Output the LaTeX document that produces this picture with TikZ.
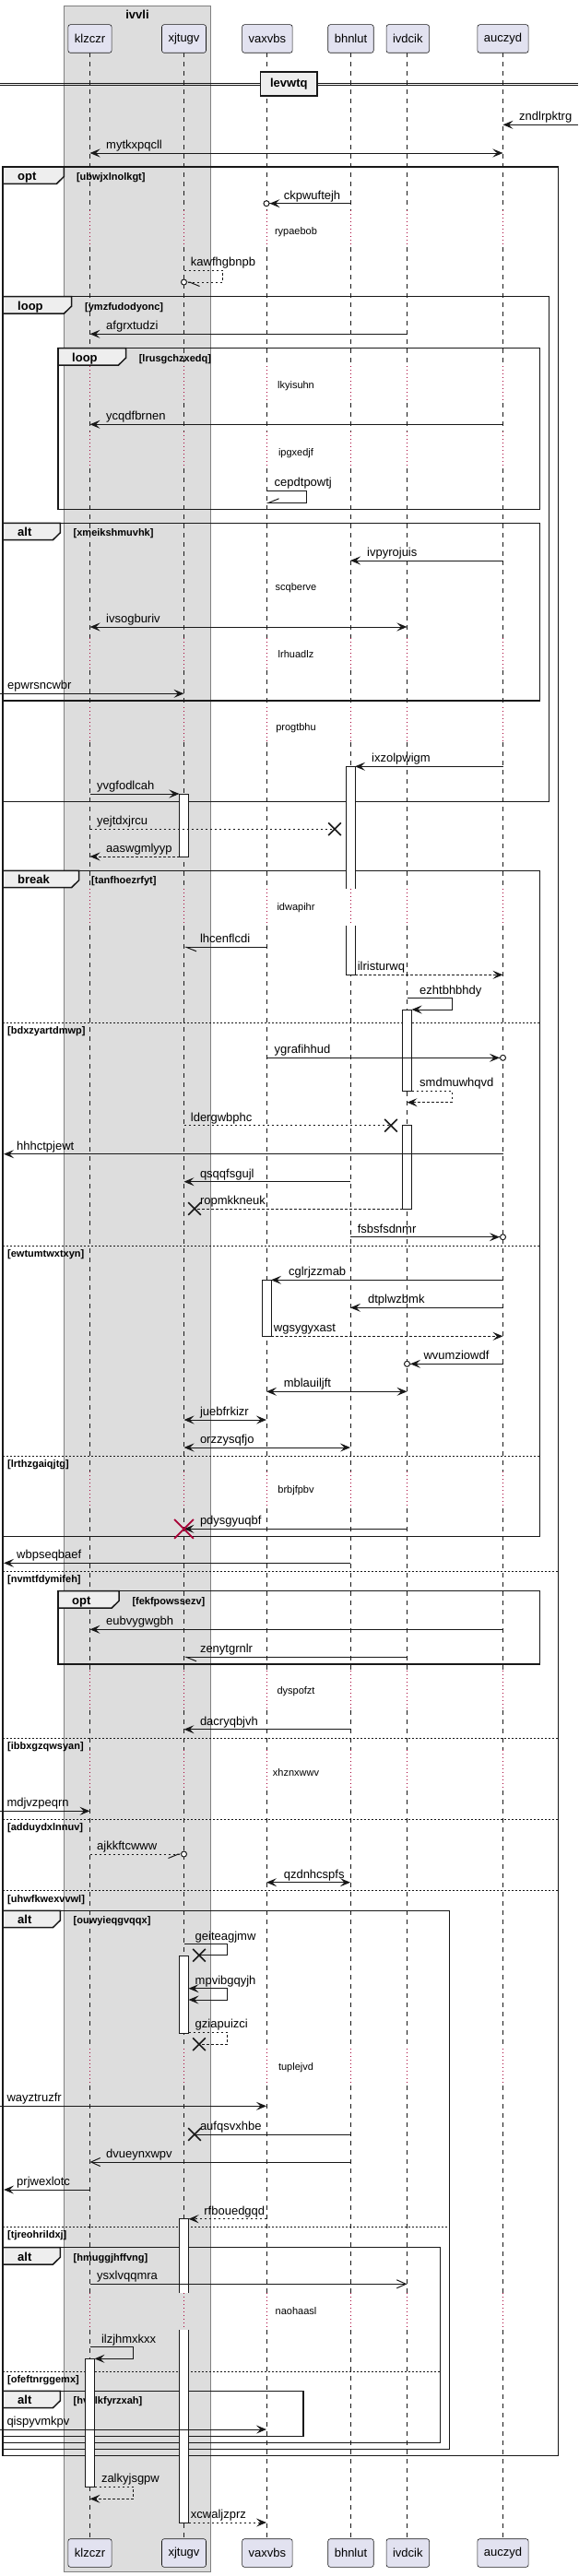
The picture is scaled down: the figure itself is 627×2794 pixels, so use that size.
\documentclass[tikz,border=0pt]{standalone}
\usepackage{fontspec}
\setmainfont{Liberation Sans}
\usetikzlibrary{arrows.meta,shapes.misc}

\definecolor{partyfill}{HTML}{E2E2F0}
\definecolor{groupfill}{HTML}{DDDDDD}
\definecolor{tabfill}{HTML}{EEEEEE}
\definecolor{delayred}{HTML}{A80036}
\definecolor{ink}{HTML}{181818}

\tikzset{
  party/.style={draw=ink, fill=partyfill, rounded corners=2.5pt, line width=0.6pt,
    minimum height=30.6pt, inner xsep=7pt, font=\fontsize{13}{15}\selectfont},
  lifeline/.style={draw=ink, line width=0.6pt, dash pattern=on 5pt off 5pt},
  delayline/.style={draw=delayred, line width=1pt, dash pattern=on 1pt off 3pt},
  msg/.style={draw=ink, line width=1pt, ->},
  twoway/.style={msg, <->},
  ret/.style={msg, dash pattern=on 2.5pt off 2.5pt},
  openmsg/.style={draw=ink, line width=1pt, -{Straight Barb[length=10pt,width=9pt]}},
  halfdown/.style={draw=ink, line width=1pt, -{Straight Barb[left,length=11pt,width=9pt]}},
  halfup/.style={draw=ink, line width=1pt, -{Straight Barb[right,length=11pt,width=9pt]}},
  circ/.style={draw=ink, line width=1pt, shorten >=-3.5pt,
    -{Stealth[length=11pt,width=9pt,inset=4.5pt]Circle[fill=white,length=7pt]}},
  kill/.style={cross out, draw=ink, line width=1.6pt, minimum size=12pt, inner sep=0pt},
  act/.style={fill=white, draw=ink, line width=0.8pt},
  lbl/.style={anchor=base west, inner sep=0pt, font=\fontsize{13}{15}\selectfont},
  delaytxt/.style={anchor=base, inner sep=0pt, font=\fontsize{11}{13}\selectfont},
  frm/.style={draw=ink, line width=1.5pt},
  tabbox/.style={draw=ink, fill=tabfill, line width=1.5pt},
  tabtxt/.style={anchor=base west, inner sep=0pt, font=\bfseries\fontsize{13}{15}\selectfont},
  cond/.style={anchor=base west, inner sep=0pt, font=\bfseries\fontsize{11}{13}\selectfont},
  elseline/.style={draw=ink, line width=0.8pt, dash pattern=on 2pt off 2pt},
}

\begin{document}
\begin{tikzpicture}[x=1pt,y=-1pt,>={Stealth[length=11pt,width=9pt,inset=4.5pt]}]
  \useasboundingbox (0,0) rectangle (627,2794);

  % lifeline positions and activation edges
  \coordinate (kl) at (97.5,0);
  \coordinate (xj) at (199.5,0);
  \coordinate (vx) at (289,0);
  \coordinate (bh) at (380,0);
  \coordinate (iv) at (441.5,0);
  \coordinate (au) at (545.5,0);
  \coordinate (klR) at (102.5,0);
  \coordinate (xjL) at (194.5,0);
  \coordinate (xjR) at (204.5,0);
  \coordinate (vxR) at (294,0);
  \coordinate (bhR) at (385,0);
  \coordinate (ivL) at (436.5,0);
  \coordinate (ivR) at (446.5,0);
  \coordinate (lft) at (0,0);
  \coordinate (lftin) at (4,0);
  \coordinate (rgt) at (627,0);

  % group box
  \draw[fill=groupfill, draw=black!50, line width=0.8pt] (69.4,6) rectangle (228.5,2789);
  \node[font=\bfseries\fontsize{13}{15}\selectfont] (ivvli) at (149,15.5) {ivvli};

  % routine for lifelines, with delays
  \foreach \x in {97.5,199.5,289,380,441.5,545.5} {
    \foreach \a/\b in {57.3/228,268/397,437/468,508/692,727/767,805/964,1004/1596,
                       1636/1812,1855/1898,1942/2222,2262/2487,2527/2753.7}
      \draw[lifeline] (\x,\a) -- (\x,\b);
    \foreach \a/\b in {228/268,397/437,468/508,692/727,767/805,964/1004,1596/1636,
                       1812/1855,1898/1942,2222/2262,2487/2527}
      \draw[delayline] (\x,\a) -- (\x,\b);
  }

  % divider
  \draw[ink, line width=0.8pt] (0,90) -- (627,90) (0,92.7) -- (627,92.7);
  \node[draw=ink, fill=tabfill, line width=1.5pt, minimum width=61.4pt, minimum height=26pt,
    font=\bfseries\fontsize{13}{15}\selectfont] (levwtq) at (313.3,91) {levwtq};

  % frames
  \draw[frm] (3.2,181) rectangle (605.6,2663.3);
  \draw[tabbox] (3.2,181) -- (69.4,181) -- (69.4,191.5) -- (61.4,199.3) -- (3.2,199.3) -- cycle;
  \node[tabtxt] (optA) at (19,195.5) {opt};
  \node[cond] (optAc) at (82.8,195.5) {[ubwjxlnolkgt]};

  \draw[frm] (3.2,321.7) rectangle (595.5,869.3);
  \draw[tabbox] (3.2,321.7) -- (77.5,321.7) -- (77.5,332.2) -- (69.5,340) -- (3.2,340) -- cycle;
  \node[tabtxt] (loopA) at (19,336.2) {loop};
  \node[cond] (loopAc) at (92,336.2) {[ymzfudodyonc]};

  \draw[frm] (63,377.7) rectangle (585.4,552.3);
  \draw[tabbox] (63,377.7) -- (136.5,377.7) -- (136.5,388.2) -- (128.5,396) -- (63,396) -- cycle;
  \node[tabtxt] (loopB) at (78,392.2) {loop};
  \node[cond] (loopBc) at (150.6,392.2) {[lrusgchzxedq]};

  \draw[frm] (3.2,567.3) rectangle (585.4,760);
  \draw[tabbox] (3.2,567.3) -- (65.4,567.3) -- (65.4,577.8) -- (57.4,585.6) -- (3.2,585.6) -- cycle;
  \node[tabtxt] (altA) at (19,581.8) {alt};
  \node[cond] (altAc) at (79.5,581.8) {[xmeikshmuvhk]};

  \draw[frm] (3.2,944.3) rectangle (585.4,1666.7);
  \draw[tabbox] (3.2,944.3) -- (85.6,944.3) -- (85.6,954.8) -- (77.6,962.6) -- (3.2,962.6) -- cycle;
  \node[tabtxt] (breakA) at (19,958.8) {break};
  \node[cond] (breakAc) at (99,958.8) {[tanfhoezrfyt]};
  \draw[elseline] (3.2,1109) -- (585.4,1109);
  \node[cond] (elseA) at (8,1121.3) {[bdxzyartdmwp]};
  \draw[elseline] (3.2,1351) -- (585.4,1351);
  \node[cond] (elseB) at (8,1363.3) {[ewtumtwxtxyn]};
  \draw[elseline] (3.2,1579.3) -- (585.4,1579.3);
  \node[cond] (elseC) at (8,1591.6) {[lrthzgaiqjtg]};

  \draw[elseline] (3.2,1704.3) -- (605.6,1704.3);
  \node[cond] (elseD) at (8,1716.6) {[nvmtfdymifeh]};
  \draw[frm] (63,1725.7) rectangle (585.4,1805);
  \draw[tabbox] (63,1725.7) -- (129.2,1725.7) -- (129.2,1736.2) -- (121.2,1744) -- (63,1744) -- cycle;
  \node[tabtxt] (optB) at (78,1740.2) {opt};
  \node[cond] (optBc) at (143.3,1740.2) {[fekfpowssezv]};
  \draw[elseline] (3.2,1885) -- (605.6,1885);
  \node[cond] (elseE) at (8,1897.3) {[ibbxgzqwsyan]};
  \draw[elseline] (3.2,1973.3) -- (605.6,1973.3);
  \node[cond] (elseF) at (8,1985.6) {[adduydxlnnuv]};
  \draw[elseline] (3.2,2050.7) -- (605.6,2050.7);
  \node[cond] (elseG) at (8,2063) {[uhwfkwexvvwl]};

  \draw[frm] (3.2,2072.3) rectangle (487.3,2656.3);
  \draw[tabbox] (3.2,2072.3) -- (65.4,2072.3) -- (65.4,2082.8) -- (57.4,2090.6) -- (3.2,2090.6) -- cycle;
  \node[tabtxt] (altB) at (19,2086.8) {alt};
  \node[cond] (altBc) at (79.5,2086.8) {[ouwyieqgvqqx]};
  \draw[elseline] (3.2,2415.3) -- (487.3,2415.3);
  \node[cond] (elseH) at (8,2427.6) {[tjreohrildxj]};

  \draw[frm] (3.2,2437.7) rectangle (477.6,2649.3);
  \draw[tabbox] (3.2,2437.7) -- (65.4,2437.7) -- (65.4,2448.2) -- (57.4,2456) -- (3.2,2456) -- cycle;
  \node[tabtxt] (altC) at (19,2452.2) {alt};
  \node[cond] (altCc) at (79.5,2452.2) {[hmuggjhffvng]};
  \draw[elseline] (3.2,2572.3) -- (477.6,2572.3);
  \node[cond] (elseI) at (8,2584.6) {[ofeftnrggemx]};

  \draw[frm] (3.2,2593.3) rectangle (329,2642.3);
  \draw[tabbox] (3.2,2593.3) -- (65.4,2593.3) -- (65.4,2603.8) -- (57.4,2611.6) -- (3.2,2611.6) -- cycle;
  \node[tabtxt] (altD) at (19,2607.8) {alt};
  \node[cond] (altDc) at (79.5,2607.8) {[hvolkfyrzxah]};

  % activations
  \fill[white] (375,831.3) rectangle (385,964);
  \fill[white] (375,1004) rectangle (385,1057.3);
  \draw[ink, line width=0.8pt] (375,964) -- (375,831.3) -- (385,831.3) -- (385,964);
  \draw[ink, line width=0.8pt] (375,1004) -- (375,1057.3) -- (385,1057.3) -- (385,1004);
  \draw[act] (194.5,861) rectangle (204.5,929);
  \draw[act] (436.5,1095) rectangle (446.5,1183.3);
  \draw[act] (436.5,1220.7) rectangle (446.5,1311);
  \draw[act] (284,1388.3) rectangle (294,1449.3);
  \draw[act] (194.5,2121) rectangle (204.5,2205);
  \fill[white] (194.5,2406.7) rectangle (204.5,2487);
  \fill[white] (194.5,2527) rectangle (204.5,2736);
  \draw[ink, line width=0.8pt] (194.5,2487) -- (194.5,2406.7) -- (204.5,2406.7) -- (204.5,2487);
  \draw[ink, line width=0.8pt] (194.5,2527) -- (194.5,2736) -- (204.5,2736) -- (204.5,2527);
  \draw[act] (92.5,2558.3) rectangle (102.5,2697.3);

  % messages
  \draw[msg] (rgt|-0,135.3) -- (au|-0,135.3);
  \node[lbl] (zndlrpktrg) at (563,130.8) {zndlrpktrg};
  \draw[twoway] (kl|-0,166) -- (au|-0,166);
  \node[lbl] (mytkxpqcll) at (115,161.5) {mytkxpqcll};
  \draw[circ] (bh|-0,220.7) -- (vx|-0,220.7);
  \node[lbl] (ckpwuftejh) at (307.6,216.2) {ckpwuftejh};
  \node[delaytxt] (rypaebob) at (321,254.5) {rypaebob};
  \draw[ret, shorten >=-3.5pt, -{Straight Barb[left,length=11pt,width=9pt]Circle[fill=white,length=7pt]}]
    (xj|-0,293.3) -- (241.4,293.3) -- (241.4,306) -- (xj|-0,306);
  \node[lbl] (kawfhgbnpb) at (206.7,288.8) {kawfhgbnpb};
  \draw[msg] (iv|-0,362.3) -- (kl|-0,362.3);
  \node[lbl] (afgrxtudzi) at (115,357.8) {afgrxtudzi};
  \node[delaytxt] (lkyisuhn) at (321,421.2) {lkyisuhn};
  \draw[msg] (au|-0,460.3) -- (kl|-0,460.3);
  \node[lbl] (ycqdfbrnen) at (115,455.8) {ycqdfbrnen};
  \node[delaytxt] (ipgxedjf) at (321,494.2) {ipgxedjf};
  \draw[halfup] (vx|-0,532.3) -- (332.7,532.3) -- (332.7,545.3) -- (vx|-0,545.3);
  \node[lbl] (cepdtpowtj) at (297.5,527.8) {cepdtpowtj};
  \draw[msg] (au|-0,608) -- (bh|-0,608);
  \node[lbl] (ivpyrojuis) at (398,603.5) {ivpyrojuis};
  \node[delaytxt] (scqberve) at (321,640.2) {scqberve};
  \draw[twoway] (kl|-0,680) -- (iv|-0,680);
  \node[lbl] (ivsogburiv) at (115,675.5) {ivsogburiv};
  \node[delaytxt] (lrhuadlz) at (321,713.5) {lrhuadlz};
  \draw[msg] (lft|-0,752.3) -- (xj|-0,752.3);
  \node[lbl] (epwrsncwbr) at (8,747.8) {epwrsncwbr};
  \node[delaytxt] (progtbhu) at (321,792.8) {progtbhu};
  \draw[msg] (au|-0,831.3) -- (bhR|-0,831.3);
  \node[lbl] (ixzolpwigm) at (403,826.8) {ixzolpwigm};
  \draw[msg] (kl|-0,861) -- (xjL|-0,861);
  \node[lbl] (yvgfodlcah) at (105,856.5) {yvgfodlcah};
  \node[kill] (xA) at (363,899.3) {};
  \draw[ret,-] (kl|-0,899.3) -- (xA.center);
  \node[lbl] (yejtdxjrcu) at (105,894.8) {yejtdxjrcu};
  \draw[ret] (xjL|-0,929) -- (kl|-0,929);
  \node[lbl] (aaswgmlyyp) at (115,924.5) {aaswgmlyyp};

  % break
  \node[delaytxt] (idwapihr) at (321,987.5) {idwapihr};
  \draw[halfdown] (vx|-0,1027.3) -- (xj|-0,1027.3);
  \node[lbl] (lhcenflcdi) at (216.8,1022.8) {lhcenflcdi};
  \draw[ret] (bhR|-0,1057.3) -- (au|-0,1057.3);
  \node[lbl] (ilristurwq) at (387.6,1052.8) {ilristurwq};
  \draw[msg] (iv|-0,1082.7) -- (490,1082.7) -- (490,1095) -- (ivR|-0,1095);
  \node[lbl] (ezhtbhbhdy) at (455,1078.2) {ezhtbhbhdy};
  \draw[circ] (vx|-0,1147.3) -- (au|-0,1147.3);
  \node[lbl] (ygrafihhud) at (297.5,1142.8) {ygrafihhud};
  \draw[ret] (ivR|-0,1183.3) -- (490,1183.3) -- (490,1195.7) -- (iv|-0,1195.7);
  \node[lbl] (smdmuwhqvd) at (455,1178.8) {smdmuwhqvd};
  \node[kill] (xB) at (424,1220.7) {};
  \draw[ret,-] (xj|-0,1220.7) -- (xB.center);
  \node[lbl] (ldergwbphc) at (206.7,1216.2) {ldergwbphc};
  \draw[msg] (au|-0,1251.7) -- (lftin|-0,1251.7);
  \node[lbl] (hhhctpjewt) at (18,1247.2) {hhhctpjewt};
  \draw[msg] (bh|-0,1281.7) -- (xj|-0,1281.7);
  \node[lbl] (qsqqfsgujl) at (216.8,1277.2) {qsqqfsgujl};
  \node[kill] (xC) at (211,1311) {};
  \draw[ret,-] (ivL|-0,1311) -- (xC.center);
  \node[lbl] (ropmkkneuk) at (216.8,1306.5) {ropmkkneuk};
  \draw[circ] (bh|-0,1341.7) -- (au|-0,1341.7);
  \node[lbl] (fsbsfsdnmr) at (387.6,1337.2) {fsbsfsdnmr};
  \draw[msg] (au|-0,1388.3) -- (vxR|-0,1388.3);
  \node[lbl] (cglrjzzmab) at (312.9,1383.8) {cglrjzzmab};
  \draw[msg] (au|-0,1418.3) -- (bh|-0,1418.3);
  \node[lbl] (dtplwzbmk) at (398.9,1413.8) {dtplwzbmk};
  \draw[ret] (vxR|-0,1449.3) -- (au|-0,1449.3);
  \node[lbl] (wgsygyxast) at (296.7,1444.8) {wgsygyxast};
  \draw[circ] (au|-0,1479.3) -- (iv|-0,1479.3);
  \node[lbl] (wvumziowdf) at (459.4,1474.8) {wvumziowdf};
  \draw[twoway] (vx|-0,1509.3) -- (iv|-0,1509.3);
  \node[lbl] (mblauiljft) at (307.6,1504.8) {mblauiljft};
  \draw[twoway] (xj|-0,1540) -- (vx|-0,1540);
  \node[lbl] (juebfrkizr) at (216.8,1535.5) {juebfrkizr};
  \draw[twoway] (xj|-0,1570) -- (bh|-0,1570);
  \node[lbl] (orzzysqfjo) at (216.8,1565.5) {orzzysqfjo};
  \node[delaytxt] (brbjfpbv) at (321,1619.5) {brbjfpbv};
  \draw[msg] (iv|-0,1658.3) -- (xj|-0,1658.3);
  \node[kill, draw=delayred, minimum size=19pt, line width=1.8pt] (xD) at (xj|-0,1658.3) {};
  \node[lbl] (pdysgyuqbf) at (216.8,1653.8) {pdysgyuqbf};
  \draw[msg] (bh|-0,1695.3) -- (lftin|-0,1695.3);
  \node[lbl] (wbpseqbaef) at (18,1690.8) {wbpseqbaef};

  % after break
  \draw[msg] (au|-0,1767.3) -- (kl|-0,1767.3);
  \node[lbl] (eubvygwgbh) at (115,1762.8) {eubvygwgbh};
  \draw[halfdown] (iv|-0,1797.3) -- (xj|-0,1797.3);
  \node[lbl] (zenytgrnlr) at (216.8,1792.8) {zenytgrnlr};
  \node[delaytxt] (dyspofzt) at (321,1837.8) {dyspofzt};
  \draw[msg] (bh|-0,1875.7) -- (xj|-0,1875.7);
  \node[lbl] (dacryqbjvh) at (216.8,1871.2) {dacryqbjvh};
  \node[delaytxt] (xhznxwwv) at (321,1926.2) {xhznxwwv};
  \draw[msg] (lft|-0,1964.3) -- (kl|-0,1964.3);
  \node[lbl] (mdjvzpeqrn) at (7.3,1959.8) {mdjvzpeqrn};
  \draw[ret, shorten >=-3.5pt, -{Straight Barb[right,length=11pt,width=9pt]Circle[fill=white,length=7pt]}]
    (kl|-0,2011) -- (xj|-0,2011);
  \node[lbl] (ajkkftcwww) at (105,2006.5) {ajkkftcwww};
  \draw[twoway] (vx|-0,2041.7) -- (bh|-0,2041.7);
  \node[lbl] (qzdnhcspfs) at (307.6,2037.2) {qzdnhcspfs};

  % inner alt
  \node[kill] (xE) at (216,2120.7) {};
  \draw[msg,-] (xj|-0,2108.7) -- (246.7,2108.7) -- (246.7,2120.7) -- (xE.center);
  \node[lbl] (geiteagjmw) at (211.5,2104.2) {geiteagjmw};
  \draw[twoway] (xjR|-0,2156.7) -- (246.7,2156.7) -- (246.7,2169) -- (xjR|-0,2169);
  \node[lbl] (mpvibgqyjh) at (211.5,2152.2) {mpvibgqyjh};
  \node[kill] (xF) at (216,2217.3) {};
  \draw[ret,-] (xjR|-0,2204.3) -- (246.7,2204.3) -- (246.7,2217.3) -- (xF.center);
  \node[lbl] (gziapuizci) at (211.5,2199.8) {gziapuizci};
  \node[delaytxt] (tuplejvd) at (321,2245.8) {tuplejvd};
  \draw[msg] (lft|-0,2284.3) -- (vx|-0,2284.3);
  \node[lbl] (wayztruzfr) at (7.3,2279.8) {wayztruzfr};
  \node[kill] (xG) at (211,2315) {};
  \draw[msg,-] (bh|-0,2315) -- (xG.center);
  \node[lbl] (aufqsvxhbe) at (216.8,2310.5) {aufqsvxhbe};
  \draw[openmsg] (bh|-0,2345) -- (kl|-0,2345);
  \node[lbl] (dvueynxwpv) at (115,2340.5) {dvueynxwpv};
  \draw[msg] (kl|-0,2375) -- (lftin|-0,2375);
  \node[lbl] (prjwexlotc) at (18,2370.5) {prjwexlotc};
  \draw[ret] (vx|-0,2406.7) -- (xjR|-0,2406.7);
  \node[lbl] (rfbouedgqd) at (221.2,2402.2) {rfbouedgqd};
  \draw[openmsg] (kl|-0,2477.3) -- (iv|-0,2477.3);
  \node[lbl] (ysxlvqqmra) at (105,2472.8) {ysxlvqqmra};
  \node[delaytxt] (naohaasl) at (321,2510.2) {naohaasl};
  \draw[msg] (kl|-0,2545.7) -- (144.5,2545.7) -- (144.5,2558.3) -- (klR|-0,2558.3);
  \node[lbl] (ilzjhmxkxx) at (109.8,2541.2) {ilzjhmxkxx};
  \draw[msg] (lft|-0,2635) -- (vx|-0,2635);
  \node[lbl] (qispyvmkpv) at (7.3,2630.5) {qispyvmkpv};

  % closing returns
  \draw[ret] (klR|-0,2697.3) -- (144.5,2697.3) -- (144.5,2710.3) -- (kl|-0,2710.3);
  \node[lbl] (zalkyjsgpw) at (109.8,2692.8) {zalkyjsgpw};
  \draw[ret] (xjR|-0,2736) -- (vx|-0,2736);
  \node[lbl] (xcwaljzprz) at (206.7,2731.5) {xcwaljzprz};

  % participants
  \node[party] (klT) at (97.5,42) {klzczr};
  \node[party] (xjT) at (199.5,42) {xjtugv};
  \node[party] (vxT) at (289.9,42) {vaxvbs};
  \node[party] (bhT) at (380.5,42) {bhnlut};
  \node[party] (ivT) at (442.3,42) {ivdcik};
  \node[party] (auT) at (545.5,42) {auczyd};
  \node[party] (klB) at (97.5,2769) {klzczr};
  \node[party] (xjB) at (199.5,2769) {xjtugv};
  \node[party] (vxB) at (289.9,2769) {vaxvbs};
  \node[party] (bhB) at (380.5,2769) {bhnlut};
  \node[party] (ivB) at (442.3,2769) {ivdcik};
  \node[party] (auB) at (545.5,2769) {auczyd};
\end{tikzpicture}
\end{document}
